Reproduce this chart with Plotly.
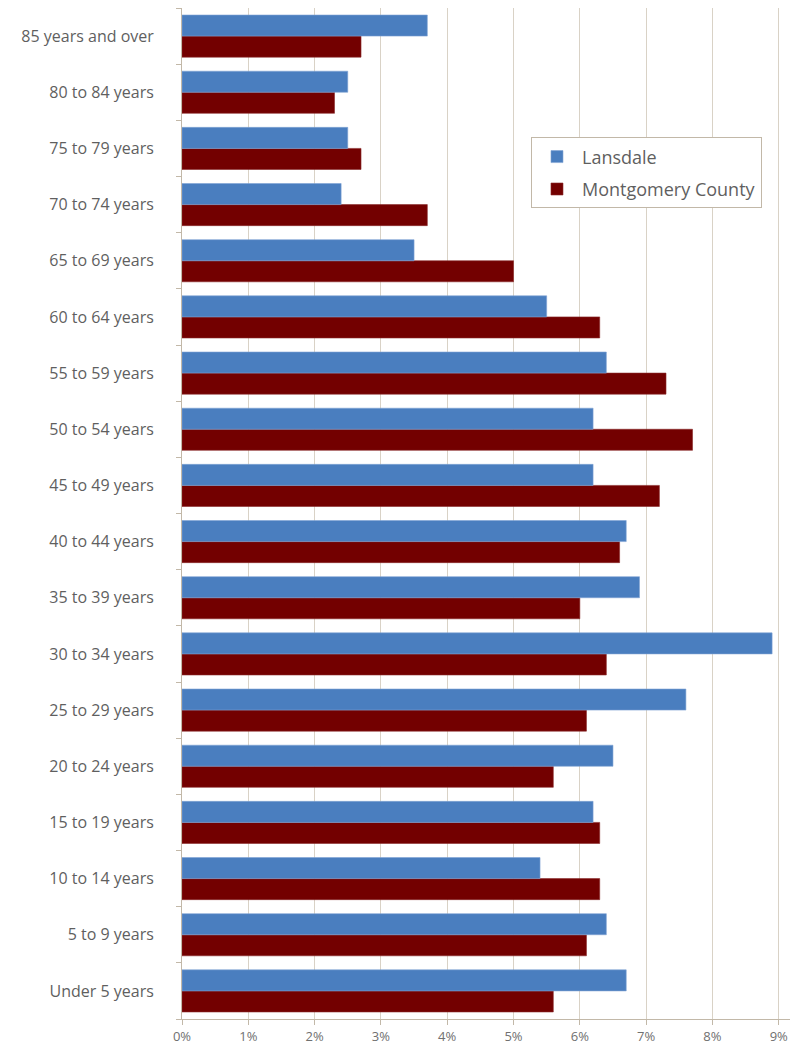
import plotly.graph_objects as go

categories = ["Under 5 years", "5 to 9 years", "10 to 14 years", "15 to 19 years",
              "20 to 24 years", "25 to 29 years", "30 to 34 years", "35 to 39 years",
              "40 to 44 years", "45 to 49 years", "50 to 54 years", "55 to 59 years",
              "60 to 64 years", "65 to 69 years", "70 to 74 years", "75 to 79 years",
              "80 to 84 years", "85 years and over"]
lansdale = [6.7, 6.4, 5.4, 6.2, 6.5, 7.6, 8.9, 6.9, 6.7, 6.2, 6.2, 6.4, 5.5, 3.5, 2.4, 2.5, 2.5, 3.7]
montgomery = [5.6, 6.1, 6.3, 6.3, 5.6, 6.1, 6.4, 6.0, 6.6, 7.2, 7.7, 7.3, 6.3, 5.0, 3.7, 2.7, 2.3, 2.7]
x_ticks = [0, 1, 2, 3, 4, 5, 6, 7, 8, 9]
x_tick_labels = ["0%", "1%", "2%", "3%", "4%", "5%", "6%", "7%", "8%", "9%"]

FONT = "Open Sans, sans-serif"
GRID = "#D9D2C6"
AXIS = "#C2B8A8"

fig = go.Figure()
fig.add_trace(go.Bar(y=categories, x=montgomery, orientation="h", name="Montgomery County",
                     marker=dict(color="#730000", line=dict(color="#8a2a2a", width=0.6)),
                     legendrank=2, legendgroup="b"))
fig.add_trace(go.Bar(y=categories, x=lansdale, orientation="h", name="Lansdale",
                     marker=dict(color="#4A7EBF", line=dict(color="#7fa3d3", width=0.6)),
                     legendrank=1, legendgroup="a"))

fig.update_layout(
    width=802, height=1046,
    margin=dict(l=182, r=12, t=8, b=27),
    paper_bgcolor="white", plot_bgcolor="white",
    barmode="group", bargap=0.25, bargroupgap=0,
    font=dict(family=FONT, color="#5f5f5f"),
    legend=dict(x=0.574, y=0.872, xanchor="left", yanchor="top",
                bordercolor=AXIS, borderwidth=1, bgcolor="white",
                font=dict(size=18, color="#5f5f5f"), tracegroupgap=6,
                traceorder="grouped", itemwidth=40),
    showlegend=True,
)
fig.update_xaxes(range=[0, 9.17], tickvals=x_ticks, ticktext=x_tick_labels,
                 showgrid=True, gridcolor=GRID, gridwidth=1,
                 showline=True, linecolor=AXIS, linewidth=1,
                 ticks="outside", ticklen=5, tickcolor=AXIS, automargin=False,
                 tickfont=dict(size=13, color="#707070"), zeroline=False)
fig.update_yaxes(showline=True, linecolor=AXIS, linewidth=1,
                 ticks="outside", tickson="boundaries", ticklen=5, tickcolor=AXIS,
                 tickfont=dict(size=16, color="#5f5f5f"), ticklabelstandoff=24,
                 showgrid=False, range=[-0.5, 17.5], automargin=False)

fig.write_html("out.html")
